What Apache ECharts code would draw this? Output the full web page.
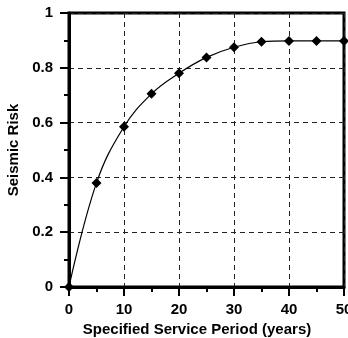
<!DOCTYPE html>
<html><head><meta charset="utf-8">
<script src="https://cdn.jsdelivr.net/npm/echarts@6/dist/echarts.min.js"></script>
<style>html,body{margin:0;padding:0;background:#fff}#c{width:348px;height:338px}</style>
</head><body><div id="c"></div>
<script>
var years = [0, 5, 10, 15, 20, 25, 30, 35, 40, 45, 50];
var risk = [0, 0.38, 0.585, 0.705, 0.78, 0.838, 0.875, 0.895, 0.898, 0.898, 0.898];
var xTicks = [0, 10, 20, 30, 40, 50];
var yTicks = [0, 0.2, 0.4, 0.6, 0.8, 1];
var font = 'Liberation Sans, Arial, sans-serif';
var chart = echarts.init(document.getElementById('c'));
chart.setOption({
  animation: false,
  grid: {left: 69, right: 4, top: 13, bottom: 51, show: true, borderColor: '#000', borderWidth: 3,
    backgroundColor: 'transparent', containLabel: false, outerBoundsMode: 'none'},
  xAxis: {
    type: 'value', min: 0, max: 50, interval: 10,
    name: 'Specified Service Period (years)', nameLocation: 'middle', nameGap: 33,
    nameTextStyle: {fontFamily: font, fontWeight: 'bold', fontSize: 15, color: '#000', padding: [0, 19, 0, 0]},
    axisLine: {show: true, lineStyle: {color: '#000', width: 3}},
    axisTick: {show: true, length: 9, lineStyle: {color: '#000', width: 2}},
    minorTick: {show: true, splitNumber: 2, length: 5, lineStyle: {color: '#000', width: 2}},
    axisLabel: {fontFamily: font, fontWeight: 'bold', fontSize: 15, color: '#000', margin: 15,
      formatter: function(v){ return xTicks.indexOf(v) >= 0 ? String(v) : ''; }},
    splitLine: {show: true, lineStyle: {color: '#222', width: 1, type: [5, 4]}}
  },
  yAxis: {
    type: 'value', min: 0, max: 1, interval: 0.2,
    name: 'Seismic Risk', nameLocation: 'middle', nameGap: 42,
    nameTextStyle: {fontFamily: font, fontWeight: 'bold', fontSize: 15, color: '#000'},
    axisLine: {show: true, lineStyle: {color: '#000', width: 3}},
    axisTick: {show: true, length: 9, lineStyle: {color: '#000', width: 2}},
    minorTick: {show: true, splitNumber: 2, length: 5, lineStyle: {color: '#000', width: 2}},
    axisLabel: {fontFamily: font, fontWeight: 'bold', fontSize: 15, color: '#000', margin: 16,
      formatter: function(v){ var r = Math.round(v*10)/10; return yTicks.indexOf(r) >= 0 ? String(r) : ''; }},
    splitLine: {show: true, lineStyle: {color: '#222', width: 1, type: [5, 4]}}
  },
  series: [{
    type: 'line', smooth: 0.4,
    data: years.map(function(x, i){ return [x, risk[i]]; }),
    symbol: 'diamond', symbolSize: 10,
    itemStyle: {color: '#000'},
    lineStyle: {color: '#000', width: 1.2},
    clip: false
  }]
});
</script></body></html>
